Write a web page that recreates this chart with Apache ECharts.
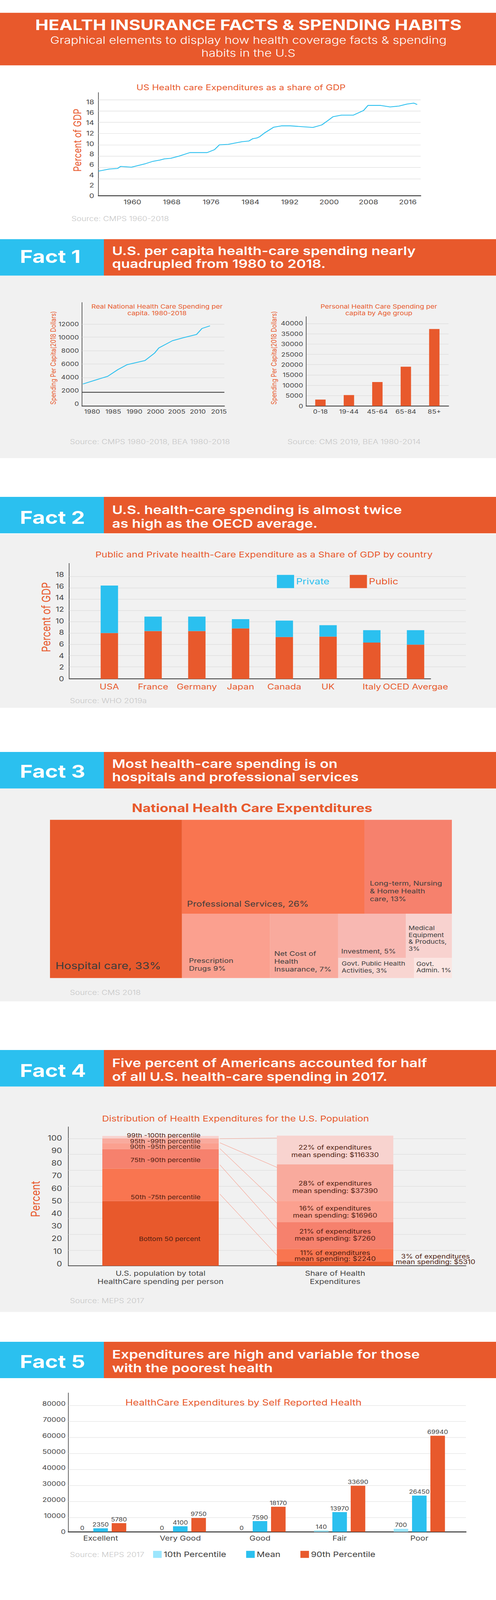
<!DOCTYPE html>
<html>
<head>
<meta charset="utf-8">
<title>Health insurance facts and spending habits</title>
<script src="https://cdn.jsdelivr.net/npm/echarts@6/dist/echarts.min.js"></script>
<style>
  html, body { margin: 0; padding: 0; background: #fff; overflow: hidden; }
  #page { width: 1270px; height: 4998px; transform-origin: 0 0; }
</style>
</head>
<body>
<div id="page"></div>
<script>
const ORANGE = '#e8592c';
const BLUE   = '#2bc0ef';
const PANEL  = '#f1f1f1';
const GRIDC  = '#dcdcdc';
const AXISC  = '#333333';
const TEXTC  = '#444444';
const SRCC   = '#c6c6c6';
const FONT   = 'Inter';
const PAGE_H = 4998;

// US health care share of GDP (line vertices)
const gdpYears  = [1953.1,1955.3,1957.0,1957.6,1959.8,1962.7,1964.2,1965.6,1966.5,1967.8,1969.4,1971.7,1975.2,1976.7,1977.7,1979.5,1982.3,1983.7,1984.5,1985.3,1985.9,1986.8,1988.7,1990.3,1992.1,1996.7,1998.5,1999.9,2000.8,2002.5,2004.9,2007.0,2007.9,2010.5,2012.4,2014.2,2015.8,2017.2,2017.9];
const gdpValues = [4.70,5.10,5.21,5.60,5.46,6.14,6.59,6.82,7.05,7.16,7.56,8.26,8.26,8.83,9.76,9.84,10.35,10.49,10.94,11.06,11.32,11.99,13.12,13.40,13.40,13.09,13.57,14.51,15.16,15.45,15.45,16.35,17.32,17.32,17.03,17.20,17.57,17.77,17.49];
const gdpGridValues = [3.23,5.41,7.56,9.74,11.92,14.1,16.25,18.43];
const gdpTicksX = [1960,1968,1976,1984,1992,2000,2008,2016];

// real spending per capita
const capitaYears  = [1977.8,1980.7,1983.7,1986.1,1988.3,1992.5,1994.8,1995.8,1999.0,2001.7,2004.7,2006.0,2007.9];
const capitaValues = [2994,3579,4164,5170,5918,6526,7672,8444,9520,9988,10456,11368,11766];
const capitaGridValues = [3930,6035,8000,10058,12023];
const capitaDarkLine = 1778;
const capitaTickYears  = [1980,1985,1990,1995,2000,2005,2010];
const capitaTickLabels = ['1980','1985','1990','2000','2005','2010','2015'];
const capitaTicksY = [0,2000,4000,6000,8000,10000,12000];

// spending per capita by age
const ageGroups = ['0-18','19-44','45-64','65-84','85+'];
const ageValues = [3083,5263,11579,19023,37293];

// public and private by country
const countries     = ['USA','France','Germany','Japan','Canada','UK','Italy','OCED Avergae'];
const publicValues  = [7.91,8.25,8.25,8.69,7.22,7.29,6.26,5.91];
const privateValues = [8.17,2.49,2.49,1.61,2.83,1.97,2.14,2.49];
const countryGridValues = [2.09,4.04,5.96,7.91,9.85,11.82,13.74,15.67,17.64];
const countryTicksY = [0,2,4,6,8,10,12,14,16,18];

// national expenditures
const treeNames = ['Hospital care, 33%','Professional Services, 26%','Long-term, Nursing\n& Home Health\ncare, 13%','Prescription\nDrugs 9%','Net Cost of\nHealth\nInsuarance, 7%','Investment, 5%','Medical\nEquipment\n& Products,\n3%','Govt. Public Health\nActivities, 3%','Govt.\nAdmin. 1%'];
const treeValues = [32.8,26.9,12.9,8.9,6.9,4.7,3.2,2.4,1.2];
const treeColors = ['#e8592c','#f97550','#f6816d','#fba08f','#f9aa9d','#f8b8b2','#f8d2cf','#f8d5d1','#fbe5e2'];
const treeSplits = [0,[[1,2],[3,4,[[5,6],[7,8]]]]];

// distribution of expenditures, layers from the bottom
const distLabels = ['U.S. population by total\nHealthCare spending per person','Share of Health\nExpenditures'];
const distPopulation = [50,25,15,4.7,3.6,1.9];
const distShare      = [3.4,9.6,20.6,16.5,28.2,22.1];
const distColors = ['#e8592c','#f97550','#f6816d','#fba08f','#f9aa9d','#f8d3cf'];
const distGridValues = [11.9,24.3,36.6,48.9,61.2,73.6,85.9,98.1];
const distTicksY = [0,10,20,30,40,50,60,70,80,90,100];
const distLinksFrom = [98.1,94.9,90.4,77.9,55.3];
const distLinksTo   = [98.6,75.7,47.8,28.0,7.5];

// self reported health
const healthLevels = ['Excellent','Very Good','Good','Fair','Poor'];
const p10Values  = [0,0,0,830,1875];
const meanValues = [2190,3440,6670,12290,22600];
const p90Values  = [5420,8650,15625,28750,59900];
const p10Labels  = ['0','0','0','140','700'];
const meanLabels = ['2350','4100','7590','13970','26450'];
const p90Labels  = ['5780','9750','18170','33690','69940'];
const healthGridValues = [8958,18854,28854,38854,48854,58854,68854,78854];

const graphics = [];

function rect(x, y, w, h, fill, z) {
    graphics.push({type:'rect', z:z || 0, silent:true, shape:{x:x, y:y, width:w, height:h}, style:{fill:fill}});
}
function txt(text, x, y, size, color, opts) {
    opts = opts || {};
    const align = opts.align || 'left';
    graphics.push({
        type:'text', z:opts.z === undefined ? 10 : opts.z, silent:true, x:x, y:y,
        rotation:opts.rotation || 0,
        style:{
            text:text, fill:color, fontSize:size, fontFamily:FONT,
            fontWeight:opts.weight || 400, lineHeight:opts.lineHeight,
            align:align, verticalAlign:'middle', textAlign:align, textVerticalAlign:'middle'
        }
    });
}
function factBanner(label, line1, line2, top, bottom, factY, y1, y2) {
    rect(0, top, 266, bottom-top, BLUE, 1);
    rect(266, top, 1004, bottom-top, ORANGE, 1);
    txt(label, 51, factY, 56, '#fff', {weight:700});
    txt(line1, 287, y1, 37, '#fff', {weight:600});
    txt(line2, 287, y2, 37, '#fff', {weight:600});
}
function source(text, x, y) { txt(text, x, y, 21, SRCC, {weight:300}); }
function yTitle(text, x, y, size) { txt(text, x, y, size, ORANGE, {rotation:Math.PI/2, align:'center'}); }

// header
rect(0, 40, 1270, 164, ORANGE, 1);
txt('HEALTH INSURANCE FACTS & SPENDING HABITS', 636, 78, 45.5, '#fff', {weight:700, align:'center'});
txt('Graphical elements to display how health coverage facts & spending', 636, 125, 32, '#fff', {weight:300, align:'center'});
txt('habits in the U.S', 636, 166, 32, '#fff', {weight:300, align:'center'});

// panels
rect(0, 861, 1270, 570, PANEL, -1);
rect(0, 1668, 1270, 543, PANEL, -1);
rect(0, 2463, 1270, 665, PANEL, -1);
rect(0, 3394, 1270, 704, PANEL, -1);

factBanner('Fact 1','U.S. per capita health-care spending nearly','quadrupled from 1980 to 2018.',747,861,801,783,824);
factBanner('Fact 2','U.S. health-care spending is almost twice','as high as the OECD average.',1552,1666,1616,1592.5,1635);
factBanner('Fact 3','Most health-care spending is on','hospitals and professional services',2349,2463,2409,2385,2427);
factBanner('Fact 4','Five percent of Americans accounted for half','of all U.S. health-care spending in 2017.',3280,3394,3343,3320,3362.6);
factBanner('Fact 5','Expenditures are high and variable for those','with the poorest health',4191.5,4305,4253,4230.6,4273);

// chart titles and notes
txt('US Health care Expenditures as a share of GDP', 617, 273, 24, ORANGE, {align:'center'});
yTitle('Percent of GDP', 198, 438, 27);
source('Source: CMPS 1960-2018', 183, 683);

txt('Real National Health Care Spending per', 402, 957, 18, ORANGE, {align:'center'});
txt('capita. 1980-2018', 402, 978, 18, ORANGE, {align:'center'});
yTitle('Spending Per Capita(2018 Dollars)', 136, 1118, 18);
source('Source: CMPS 1980-2018, BEA 1980-2018', 179, 1380);

txt('Personal Health Care Spending per', 970, 957, 18, ORANGE, {align:'center'});
txt('capita by Age group', 970, 978, 18, ORANGE, {align:'center'});
yTitle('Spending Per Capita(2018 Dollars)', 701, 1118, 18);
source('Source: CMS 2019, BEA 1980-2014', 736, 1380);

txt('Public and Private health-Care Expenditure as a Share of GDP by country', 676, 1732, 25, ORANGE, {align:'center'});
yTitle('Percent of GDP', 118, 1928, 30);
source('Source: WHO 2019a', 179, 2188.5);

txt('National Health Care Expentditures', 645.6, 2524, 36, ORANGE, {weight:700, align:'center'});
source('Source: CMS 2018', 179, 3100);

txt('Distribution of Health Expenditures for the U.S. Population', 603, 3495, 25, ORANGE, {align:'center'});
yTitle('Percent', 91.5, 3745.5, 31);
source('Source: MEPS 2017', 179, 4063);

const DARK = '#4f1d10';
[['99th -100th percentile',3547],['95th -99th percentile',3564.5],['90th -95th percentile',3582],['75th -90th percentile',3624],['50th -75th percentile',3739],['Bottom 50 percent',3870]].forEach(function(d){
    txt(d[0], 513.5, d[1], 18, DARK, {align:'right'});
});
[['22% of expenditures',3584],['mean spending: $116330',3606.7],['28% of expenditures',3696],['mean spending: $37390',3719],['16% of expenditures',3774],['mean spending: $16960',3796.5],['21% of expenditures',3846],['mean spending: $7260',3868.3],['11% of expenditures',3914],['mean spending: $2240',3932]].forEach(function(d){
    txt(d[0], 858, d[1], 19, DARK, {align:'center'});
});
txt('3% of expenditures', 1115, 3924, 19, DARK, {align:'center'});
txt('mean spending: $5310', 1115, 3942, 19, DARK, {align:'center'});

txt('HealthCare Expenditures by Self Reported Health', 623.5, 4381, 26, ORANGE, {align:'center'});
source('Source: MEPS 2017', 179, 4856);

function flatLines(values, color, width, z) {
    return {
        silent:true, symbol:'none', animation:false, z:z || 1,
        label:{show:false},
        lineStyle:{color:color || GRIDC, width:width || 1.5, type:'solid'},
        data:values.map(function(v){ return {yAxis:v}; })
    };
}
function axisStyle(width) { return {show:true, onZero:false, lineStyle:{color:AXISC, width:width || 1.5}}; }
const plain = function(v){ return String(v); };

// lay the expenditure cells out from their values, slice and dice
function sumNode(node) {
    if (typeof node === 'number') return treeValues[node];
    return node.reduce(function(s, n){ return s + sumNode(n); }, 0);
}
const treeRects = [];
function layoutNode(node, x0, y0, x1, y1, across) {
    if (typeof node === 'number') { treeRects.push([x0, y0, x1, y1, node]); return; }
    const total = sumNode(node);
    let pos = across ? x0 : y0;
    node.forEach(function(child){
        const size = sumNode(child) / total * (across ? x1-x0 : y1-y0);
        if (across) layoutNode(child, pos, y0, pos+size, y1, false);
        else layoutNode(child, x0, pos, x1, pos+size, true);
        pos += size;
    });
}
layoutNode(treeSplits, 0, 0, 100, 100, true);

const treeText = [
    {size:30, padX:14, padY:21, lh:36},
    {size:24, padX:13, padY:16, lh:30},
    {size:20, padX:14, padY:34, lh:24.5},
    {size:20, padX:18, padY:18, lh:24.5},
    {size:20, padX:11, padY:16, lh:24.5},
    {size:19, padX:8,  padY:9,  lh:24},
    {size:18, padX:7,  padY:18, lh:21.4},
    {size:18, padX:9,  padY:13, lh:21.5},
    {size:18, padX:6,  padY:14, lh:20}
];

function renderCell(params, api) {
    const a = api.coord([api.value(0), api.value(1)]);
    const b = api.coord([api.value(2), api.value(3)]);
    const i = api.value(4);
    const t = treeText[i];
    return {
        type:'group',
        children:[
            {type:'rect', shape:{x:a[0], y:a[1], width:b[0]-a[0], height:b[1]-a[1]}, style:{fill:treeColors[i]}},
            {type:'text', style:{
                text:treeNames[i], x:a[0]+t.padX, y:b[1]-t.padY, fill:'#3c3c3c',
                fontSize:t.size, fontFamily:FONT, lineHeight:t.lh, align:'left', verticalAlign:'bottom'
            }}
        ]
    };
}

const labelOf = function(arr){ return function(p){ return arr[p.dataIndex]; }; };
const withIndex = function(arr){ return arr.map(function(v, i){ return [i, v]; }); };

const option = {
    animation:false,
    backgroundColor:'#ffffff',
    textStyle:{fontFamily:FONT},
    graphic:{elements:graphics},
    legend:[
        {
            left:709, top:1796, padding:0, itemWidth:44, itemHeight:41, itemGap:52, icon:'rect', selectedMode:false,
            textStyle:{fontSize:26},
            data:[{name:'Private', textStyle:{color:BLUE}}, {name:'Public', textStyle:{color:ORANGE}}]
        },
        {
            left:392, top:4844, padding:0, itemWidth:22, itemHeight:22, itemGap:51, icon:'rect', selectedMode:false,
            textStyle:{fontSize:23, color:'#3c3c3c'},
            data:['10th Percentile','Mean','90th Percentile']
        }
    ],
    grid:[
        {left:252, top:289, width:825, height:322},
        {left:210, top:945, width:364.5, height:323},
        {left:784, top:989, width:364.5, height:279},
        {left:177, top:1760, width:1016, height:360.6},   // fact 2 axes and rules
        {left:224, top:1760, width:896, height:360.6},    // fact 2 bars
        {left:128, top:2561, width:1029, height:494},
        {left:175, top:3520, width:1018, height:434},     // fact 4 axes and rules
        {left:187.5, top:3520, width:894, height:434},    // fact 4 bars
        {left:175, top:4351, width:1018, height:434}
    ],
    xAxis:[
        {
            gridIndex:0, type:'value', min:1953.1, max:2018.6,
            axisLine:axisStyle(3), axisTick:{show:false}, splitLine:{show:false},
            axisLabel:{customValues:gdpTicksX, color:TEXTC, fontSize:20, margin:10, formatter:plain}
        },
        {
            gridIndex:1, type:'value', min:1977.6, max:2011.3,
            axisLine:axisStyle(2.5), axisTick:{show:false}, splitLine:{show:false},
            axisLabel:{customValues:capitaTickYears, color:TEXTC, fontSize:18, margin:9,
                formatter:function(v){ return capitaTickLabels[capitaTickYears.indexOf(v)]; }}
        },
        {
            gridIndex:2, type:'category', data:ageGroups,
            axisLine:axisStyle(2.5), axisTick:{show:false},
            axisLabel:{color:TEXTC, fontSize:18, margin:9}
        },
        {gridIndex:3, type:'value', min:-0.92, max:8.15, axisLine:{show:false}, axisTick:{show:false}, splitLine:{show:false}, axisLabel:{show:false}},
        {
            gridIndex:4, type:'category', data:countries,
            axisLine:{show:false}, axisTick:{show:false},
            axisLabel:{color:ORANGE, fontSize:24, margin:12, interval:0}
        },
        {gridIndex:5, type:'value', min:0, max:100, show:false},
        {gridIndex:6, type:'value', min:-0.528, max:1.749, axisLine:axisStyle(2), axisTick:{show:false}, splitLine:{show:false}, axisLabel:{show:false}},
        {
            gridIndex:7, type:'category', data:distLabels,
            axisLine:{show:false}, axisTick:{show:false},
            axisLabel:{color:TEXTC, fontSize:21, lineHeight:25.5, margin:11, interval:0}
        },
        {
            gridIndex:8, type:'value', min:-0.405, max:4.585,
            axisLine:axisStyle(3), axisTick:{show:false}, splitLine:{show:false},
            axisLabel:{customValues:[0,1,2,3,4], color:TEXTC, fontSize:21, margin:9,
                formatter:function(v){ return healthLevels[v]; }}
        }
    ],
    yAxis:[
        {
            gridIndex:0, type:'value', min:0, max:19.8, interval:2,
            axisLine:axisStyle(), axisTick:{show:false}, splitLine:{show:false},
            axisLabel:{color:TEXTC, fontSize:20, margin:11, showMaxLabel:false, formatter:plain}
        },
        {
            gridIndex:1, type:'value', min:-304, max:15275,
            axisLine:axisStyle(), axisTick:{show:false}, splitLine:{show:false},
            axisLabel:{customValues:capitaTicksY, color:TEXTC, fontSize:18, margin:8, formatter:plain}
        },
        {
            gridIndex:2, type:'value', min:0, max:43308, interval:5000,
            axisLine:axisStyle(), axisTick:{show:false},
            splitLine:{show:true, showMaxLine:false, lineStyle:{color:GRIDC, width:1.5}},
            axisLabel:{color:TEXTC, fontSize:18, margin:8, showMaxLabel:false, formatter:plain}
        },
        {
            gridIndex:3, type:'value', min:0, max:19.9,
            axisLine:axisStyle(), axisTick:{show:false}, splitLine:{show:false},
            axisLabel:{customValues:countryTicksY, color:TEXTC, fontSize:21, margin:13, formatter:plain}
        },
        {gridIndex:4, type:'value', min:0, max:19.9, show:false},
        {gridIndex:5, type:'value', min:0, max:100, inverse:true, show:false},
        {
            gridIndex:6, type:'value', min:0, max:107.2,
            axisLine:axisStyle(), axisTick:{show:false}, splitLine:{show:false}, axisLabel:{show:false}
        },
        {
            gridIndex:6, type:'value', position:'left', min:-1.54, max:108.94,
            axisLine:{show:false, onZero:false}, axisTick:{show:false}, splitLine:{show:false},
            axisLabel:{customValues:distTicksY, color:TEXTC, fontSize:22, margin:16, formatter:plain}
        },
        {gridIndex:7, type:'value', min:0, max:107.2, show:false},
        {
            gridIndex:8, type:'value', min:0, max:86667, interval:10000,
            axisLine:axisStyle(), axisTick:{show:false}, splitLine:{show:false},
            axisLabel:{color:TEXTC, fontSize:19, margin:7, showMaxLabel:false, formatter:plain}
        }
    ],
    series:[]
};

option.series.push({
    type:'line', xAxisIndex:0, yAxisIndex:0, z:3, showSymbol:false, symbol:'none',
    lineStyle:{color:BLUE, width:2.5},
    data:gdpYears.map(function(y, i){ return [y, gdpValues[i]]; }),
    markLine:flatLines(gdpGridValues)
});

const capitaLines = flatLines(capitaGridValues);
capitaLines.data.push({yAxis:capitaDarkLine, lineStyle:{color:AXISC, width:2.5}});
option.series.push({
    type:'line', xAxisIndex:1, yAxisIndex:1, z:3, showSymbol:false, symbol:'none',
    lineStyle:{color:BLUE, width:2.5},
    data:capitaYears.map(function(y, i){ return [y, capitaValues[i]]; }),
    markLine:capitaLines
});

option.series.push({
    type:'bar', xAxisIndex:2, yAxisIndex:2, barWidth:26.6, itemStyle:{color:ORANGE}, data:ageValues
});

const countryLines = flatLines(countryGridValues);
countryLines.data.push([
    {coord:[-0.92, 0], lineStyle:{color:AXISC, width:2.5}},
    {coord:[7.35, 0]}
]);
option.series.push({type:'line', xAxisIndex:3, yAxisIndex:3, z:1, symbol:'none', data:[], markLine:countryLines});
option.series.push({
    name:'Public', type:'bar', xAxisIndex:4, yAxisIndex:4, stack:'gdp', barWidth:44.5, z:3,
    itemStyle:{color:ORANGE}, data:publicValues
});
option.series.push({
    name:'Private', type:'bar', xAxisIndex:4, yAxisIndex:4, stack:'gdp', barWidth:44.5, z:3,
    itemStyle:{color:BLUE}, data:privateValues
});

option.series.push({
    type:'custom', xAxisIndex:5, yAxisIndex:5, renderItem:renderCell, silent:true,
    encode:{x:[0,2], y:[1,3]}, data:treeRects
});

const distLines = flatLines(distGridValues);
distLinksFrom.forEach(function(v, i){
    distLines.data.push([
        {coord:[0.34, v], lineStyle:{color:'#f7a393', width:1.2}},
        {coord:[0.671, distLinksTo[i]]}
    ]);
});
option.series.push({type:'line', xAxisIndex:6, yAxisIndex:6, z:1, symbol:'none', data:[], markLine:distLines});
distColors.forEach(function(color, layer){
    option.series.push({
        type:'bar', xAxisIndex:7, yAxisIndex:8, stack:'dist', barWidth:298, z:3,
        itemStyle:{color:color},
        data:[distPopulation[layer], distShare[layer]]
    });
});

function healthBars(name, color, values, labels) {
    return {
        name:name, type:'bar', xAxisIndex:8, yAxisIndex:9, barWidth:37.3, barGap:'26%', z:3,
        itemStyle:{color:color},
        label:{show:true, position:'top', distance:3, fontSize:17, color:TEXTC, formatter:labelOf(labels)},
        data:withIndex(values)
    };
}
const p10 = healthBars('10th Percentile', '#9ce6fd', p10Values, p10Labels);
p10.markLine = flatLines(healthGridValues, GRIDC, 1.2);
option.series.push(p10);
option.series.push(healthBars('Mean', BLUE, meanValues, meanLabels));
option.series.push(healthBars('90th Percentile', ORANGE, p90Values, p90Labels));

// the window can be shorter than the page (it came up 4096 tall), keep the whole page in view
const page = document.getElementById('page');
if (window.innerHeight < PAGE_H) page.style.transform = 'scaleY(' + (window.innerHeight / PAGE_H) + ')';

const chart = echarts.init(page, null, {renderer:'svg'});
chart.setOption(option);
window.addEventListener('resize', chart.resize);
</script>
</body>
</html>
